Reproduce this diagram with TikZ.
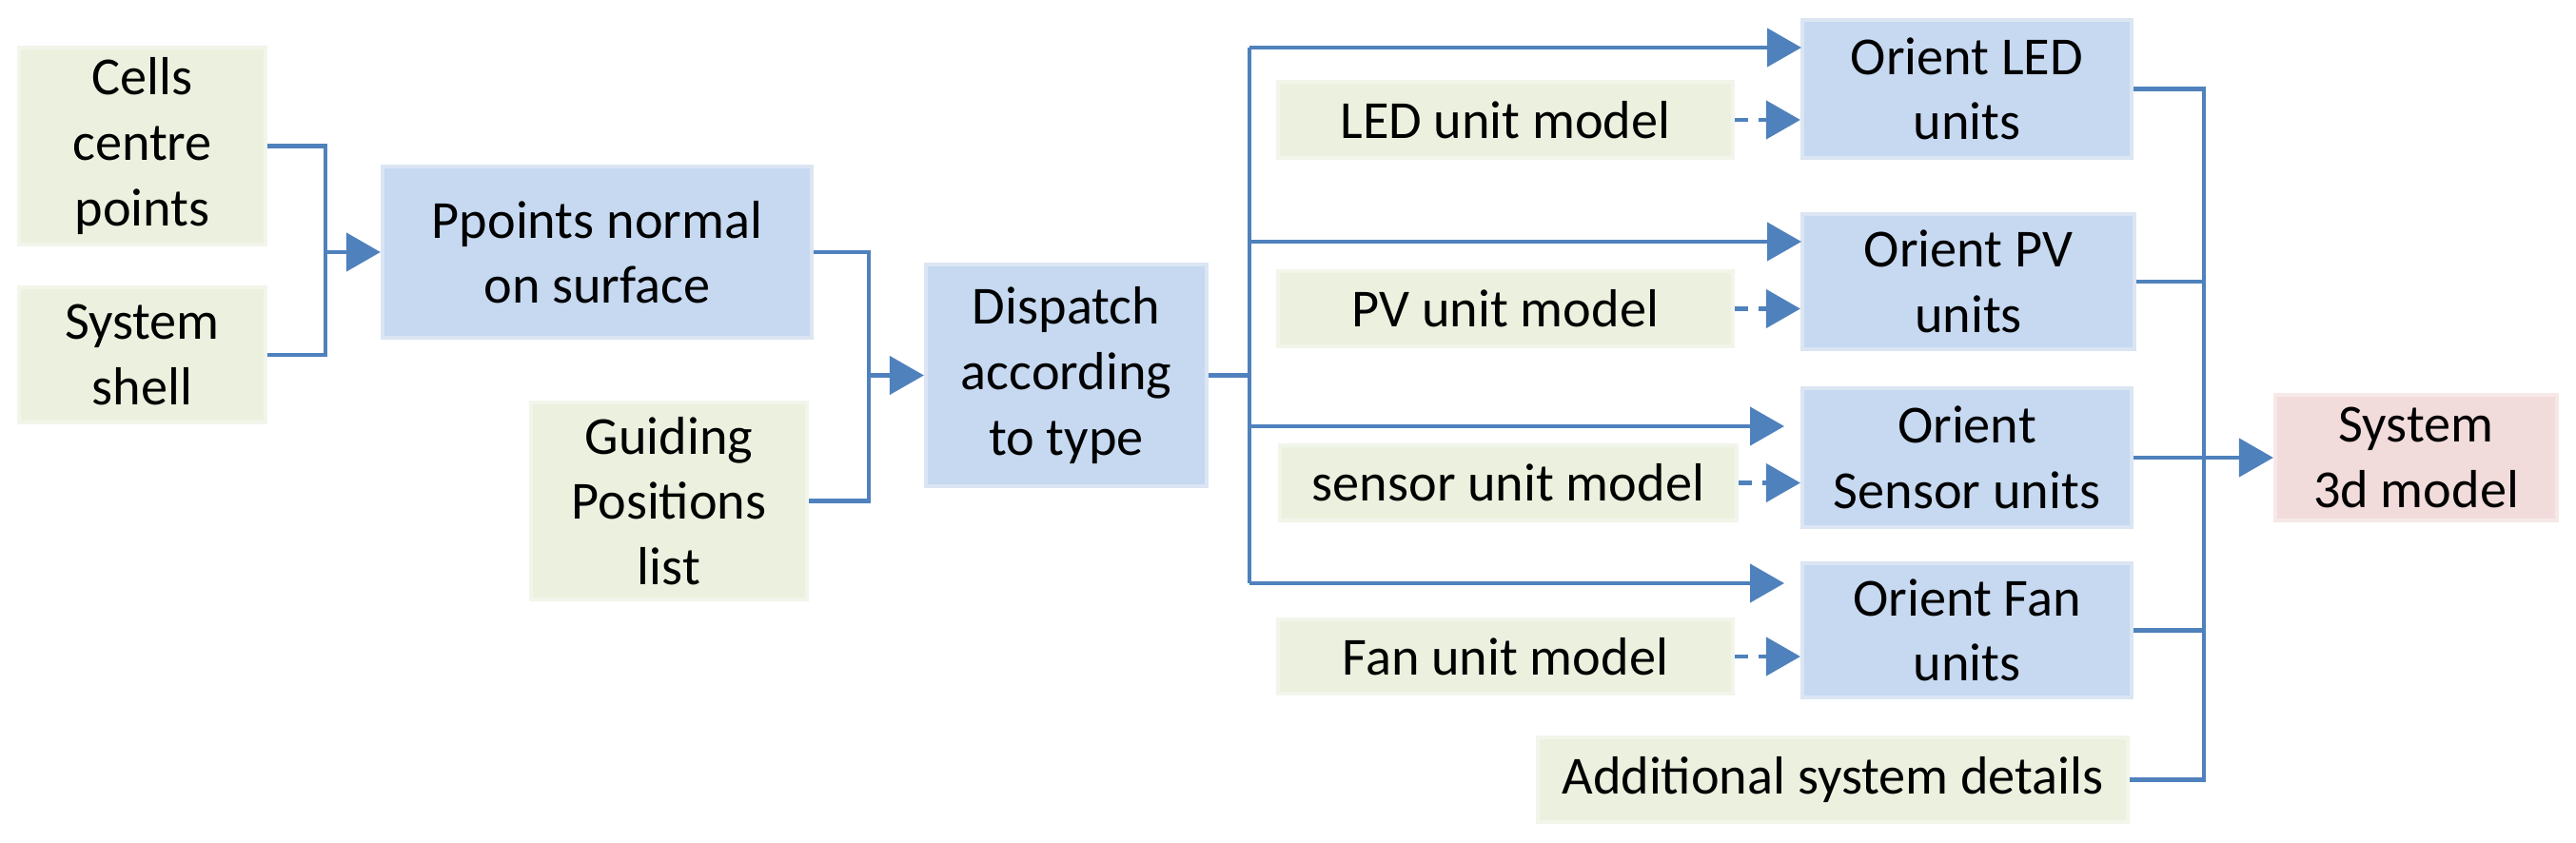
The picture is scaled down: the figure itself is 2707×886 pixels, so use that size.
\documentclass[tikz,border=0pt]{standalone}
\usepackage{fontspec}
\setmainfont{Carlito}
\usetikzlibrary{arrows.meta}
\definecolor{gfill}{HTML}{EBF1DE}
\definecolor{gdraw}{HTML}{F2F5EA}
\definecolor{bfill}{HTML}{C6D9F1}
\definecolor{bdraw}{HTML}{DBE5F3}
\definecolor{pfill}{HTML}{F2DCDB}
\definecolor{pdraw}{HTML}{F7E8E8}
\definecolor{ln}{HTML}{4F81BD}
\tikzset{
 bx/.style={inner sep=0pt, align=center, line width=1.2pt, font=\fontsize{16pt}{19.5pt}\selectfont},
 g/.style={bx, fill=gfill, draw=gdraw},
 b/.style={bx, fill=bfill, draw=bdraw},
 p/.style={bx, fill=pfill, draw=pdraw},
 sz/.style 2 args={minimum width=#1*0.01cm, minimum height=#2*0.01cm},
 ln/.style={draw=ln, line width=1.3pt},
 arr/.style={ln, -{Triangle[length=0.36cm,width=0.4cm]}},
 darr/.style={arr, dash pattern=on 4pt off 3pt},
}
\begin{document}
\begin{tikzpicture}[x=0.01cm,y=-0.01cm]
\useasboundingbox (0,0) rectangle (2707,886);
\node[g,sz={259}{207}] (cells) at (149.5,153.5) {Cells\\centre\\points};
\node[g,sz={259}{142}] (shell) at (149.5,373) {System\\shell};
\node[b,sz={451}{180}] (pp) at (627.5,265) {Ppoints normal\\on surface};
\node[g,sz={290}{207}] (guide) at (703,526.5) {Guiding\\Positions\\list};
\node[b,sz={295}{233}] (disp) at (1120.5,394.5) {Dispatch\\according\\to type};
\node[g,sz={478}{80}] (ledm) at (1582,126) {LED unit model};
\node[g,sz={478}{79}] (pvm) at (1582,324.5) {PV unit model};
\node[g,sz={480}{79}] (senm) at (1585,507.5) {sensor unit model};
\node[g,sz={478}{78}] (fanm) at (1582,690) {Fan unit model};
\node[b,sz={346}{145}] (oled) at (2067,93.5) {Orient LED\\units};
\node[b,sz={349}{142}] (opv) at (2068.5,296) {Orient PV\\units};
\node[b,sz={346}{146}] (osen) at (2067,481) {Orient\\Sensor units};
\node[b,sz={346}{141}] (ofan) at (2067,662.5) {Orient Fan\\units};
\node[g,sz={620}{89}] (add) at (1926,819.5) {Additional system details};
\node[p,sz={296}{132}] (sys) at (2539,481) {System\\3d model};
% left bracket
\coordinate (j1) at (342,265);
\draw[ln] (cells.east) -| (j1);
\draw[ln] (shell.east) -| (j1);
\draw[arr] (j1) -- (pp.west);
\coordinate (j2) at (913,394.5);
\draw[ln] (pp.east) -| (j2);
\draw[ln] (guide.east) -| (j2);
\draw[arr] (j2) -- (disp.west);
% dispatch trunk
\coordinate (t0) at (1313,394.5);
\coordinate (t1) at (1313,50);
\coordinate (t2) at (1313,254);
\coordinate (t3) at (1313,448);
\coordinate (t4) at (1313,613);
\coordinate (e1) at (1893,50);
\coordinate (e2) at (1893,254);
\coordinate (e3) at (1875,448);
\coordinate (e4) at (1875,613);
\draw[ln] (disp.east) -- (t0);
\draw[ln] (t1) -- (t4);
\draw[arr] (t1) -- (e1);
\draw[arr] (t2) -- (e2);
\draw[arr] (t3) -- (e3);
\draw[arr] (t4) -- (e4);
% dashed
\draw[darr] (ledm.east) -- (oled.west |- ledm.east);
\draw[darr] (pvm.east) -- (opv.west |- pvm.east);
\draw[darr] (senm.east) -- (osen.west |- senm.east);
\draw[darr] (fanm.east) -- (ofan.west |- fanm.east);
% right trunk
\coordinate (r1) at (2316,93.5);
\coordinate (r5) at (2316,819.5);
\coordinate (r3) at (2316,481);
\draw[ln] (oled.east) -- (r1) -- (r5) -- (add.east);
\draw[ln] (opv.east) -- (opv.east -| r1);
\draw[ln] (osen.east) -- (r3);
\draw[ln] (ofan.east) -- (ofan.east -| r1);
\draw[arr] (r3) -- (sys.west);
\end{tikzpicture}
\end{document}
